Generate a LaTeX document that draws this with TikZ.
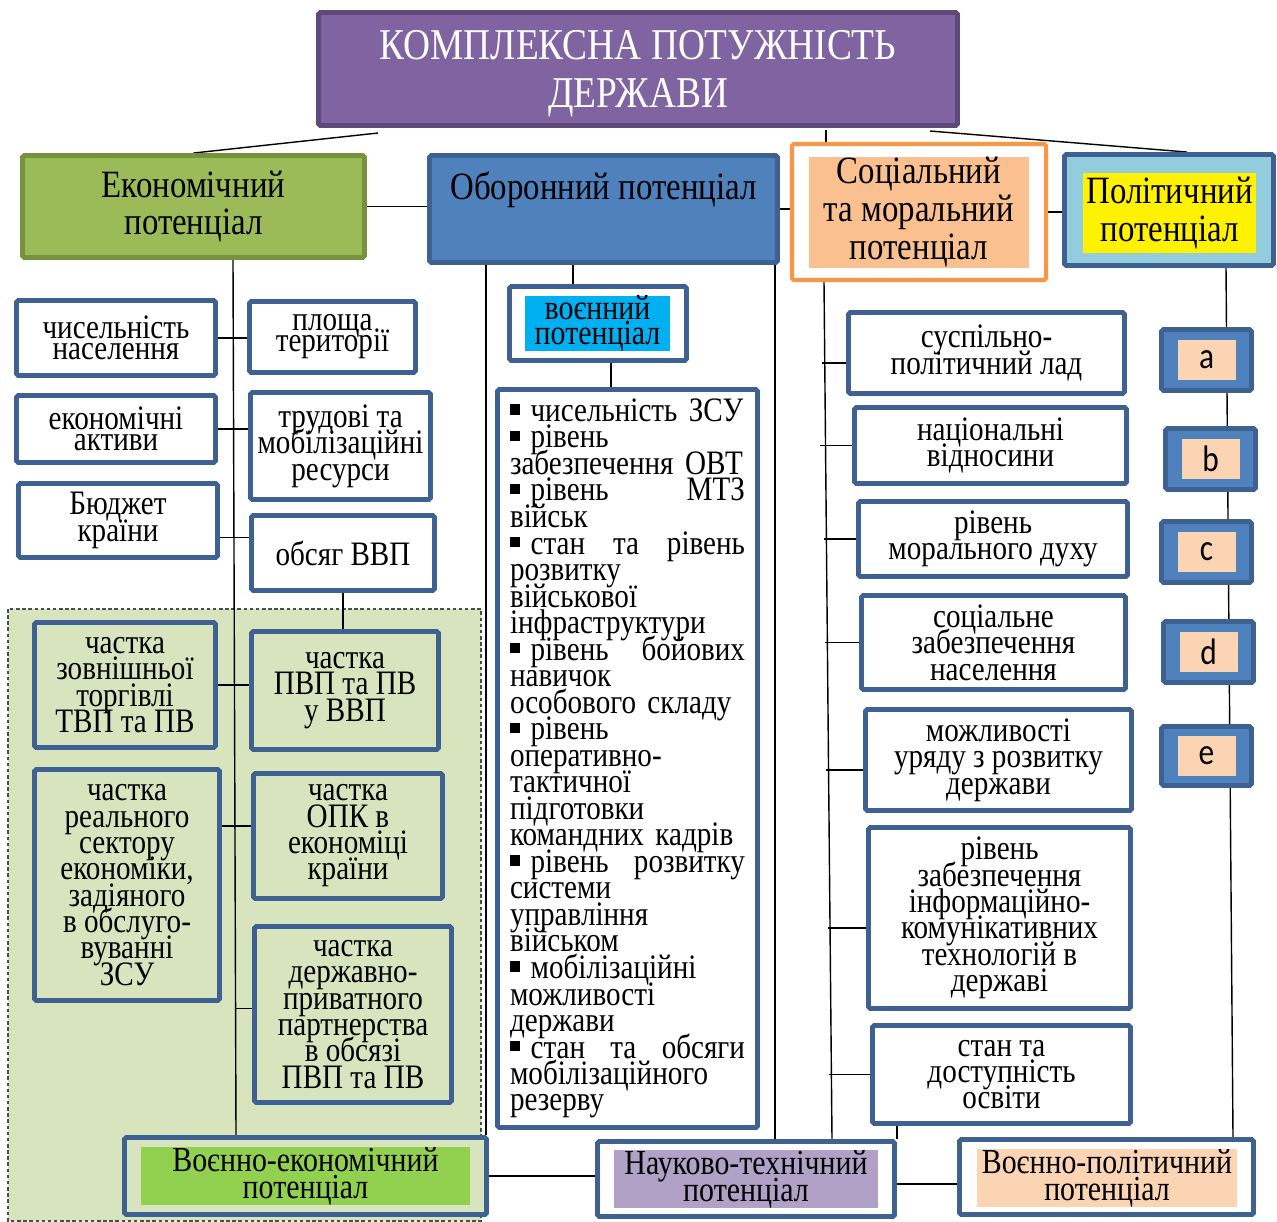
\documentclass[tikz,border=0pt]{standalone}
\usepackage{fontspec}
\setmainfont[FakeStretch=0.85]{Liberation Serif}
\newfontfamily\letfont[FakeStretch=0.85]{Carlito}
\usetikzlibrary{calc,backgrounds}

\definecolor{titlefill}{HTML}{8064A2}
\definecolor{titledraw}{HTML}{5F497A}
\definecolor{econfill}{HTML}{9BBB59}
\definecolor{econdraw}{HTML}{76923C}
\definecolor{blufill}{HTML}{4F81BD}
\definecolor{bludraw}{HTML}{3E6191}
\definecolor{orgdraw}{HTML}{F79646}
\definecolor{orgfill}{HTML}{FAC090}
\definecolor{polfill}{HTML}{93CDDD}
\definecolor{areafill}{HTML}{D7E4BD}
\definecolor{cyanfill}{HTML}{00B0F0}
\definecolor{limefill}{HTML}{92D050}
\definecolor{lilacfill}{HTML}{B2A1C7}
\definecolor{peachfill}{HTML}{FBD4B4}

\setlength{\lineskiplimit}{-100pt}
\newcommand{\ftitle}{\fontsize{25}{27.5}\selectfont}
\newcommand{\fbig}{\fontsize{22}{21.5}\selectfont}
\newcommand{\fnorm}{\fontsize{19.5}{15}\selectfont}
\newcommand{\ftight}{\fontsize{19.5}{12}\selectfont}
\newcommand{\flist}{\fontsize{19.5}{15.1}\selectfont\lineskiplimit=-100pt\relax}
\newcommand{\fbot}{\fontsize{20}{15.3}\selectfont}
\newcommand{\flet}{\letfont\fontsize{21}{21}\selectfont}
\newcommand{\bul}{\rule[0.2em]{0.3em}{0.3em}\hspace{0.3em}}

\pgfdeclarelayer{bg}
\pgfsetlayers{bg,main}

\tikzset{wh/.style 2 args={minimum width=#1*0.02cm, minimum height=#2*0.02cm}}
\tikzstyle{cell} = [draw=bludraw, line width=2.8pt, fill=white, rounded corners=1pt, align=center, inner sep=0pt, font=\fnorm]
\tikzstyle{greencell} = [cell, fill=areafill]
\tikzstyle{panel} = [inner sep=0pt, align=center, font=\fbot]
\tikzstyle{letcell} = [draw=bludraw, line width=2.6pt, fill=blufill, rounded corners=1pt, wh={90}{61}]
\tikzstyle{letpanel} = [fill=peachfill, inner sep=0pt, wh={58}{40}, font=\flet]
\tikzstyle{conn} = [draw=black, line width=0.8pt]

\begin{document}
\begin{tikzpicture}[x=0.02cm, y=-0.02cm]
\useasboundingbox (0,0) rectangle (1277,1221);

% shaded area of the military-economic block
\begin{pgfonlayer}{bg}
\fill[areafill] (8,609) rectangle (481,1221);
\draw[black!70, line width=0.6pt, dash pattern=on 2pt off 1.5pt] (8,609) rectangle (481,1221);
\end{pgfonlayer}

% top level
\node[cell, draw=titledraw, fill=titlefill, text=white, font=\ftitle, text depth=0pt, wh={639}{113}] (title) at (638,69) {КОМПЛЕКСНА ПОТУЖНІСТЬ\\ДЕРЖАВИ};
\node[cell, draw=econdraw, fill=econfill, font=\fbig, wh={342}{102}] (econ) at (193.5,206.5) {Економічний\\потенціал};
\node[cell, fill=blufill, font=\fbig, wh={348}{107}] (defn) at (603.5,209) {Оборонний потенціал\\[5pt]\mbox{}};
\node[cell, draw=orgdraw, line width=2.3pt, wh={254}{136}] (soc) at (919,212) {};
\node[panel, fill=orgfill, font=\fbig, wh={220}{111}] (socin) at (soc) {Соціальний\\та моральний\\потенціал};
\node[cell, fill=polfill, wh={209}{111}] (pol) at (1169,210) {};
\node[panel, fill=yellow, font=\fbig, wh={173}{80}] (polin) at (1169.5,213) {Політичний\\потенціал};

% economic potential
\node[cell, font=\ftight, wh={199}{75}] (nas) at (116,338) {чисельність\\населення};
\node[cell, font=\ftight, wh={166}{71}] (plosh) at (332.5,337) {площа\\території};
\node[cell, font=\ftight, wh={199}{67}] (aktyv) at (116,429) {економічні\\активи};
\node[cell, wh={180}{107}] (trud) at (340.5,446) {трудові та\\мобілізаційні\\ресурси};
\node[cell, wh={199}{74}] (budzh) at (118,520.5) {Бюджет\\країни};
\node[cell, wh={183}{75}] (vvp) at (343,553) {обсяг ВВП};

\node[greencell, wh={181}{125}] (zovn) at (125,685) {частка\\зовнішньої\\торгівлі\\ТВП та ПВ};
\node[greencell, wh={187}{118}] (pvp) at (345,690.5) {частка\\ПВП та ПВ\\у ВВП};
\node[greencell, wh={185}{231}] (real) at (127,885) {частка\\реального\\сектору\\економіки,\\задіяного\\в обслуго-\\вуванні\\ЗСУ};
\node[greencell, wh={189}{125}] (opk) at (348,836) {частка\\ОПК в\\економіці\\країни};
\node[greencell, wh={197}{176}] (dpp) at (353,1014.5) {частка\\державно-\\приватного\\партнерства\\в обсязі\\ПВП та ПВ};
\node[greencell, wh={362}{77}] (voek) at (305.5,1176) {};
\node[panel, fill=limefill, wh={329}{53}] (voekin) at (voek) {Воєнно-економічний\\потенціал};

% defence potential
\node[cell, wh={177}{74}] (voen) at (598,323.5) {};
\node[panel, fill=cyanfill, font=\fontsize{20}{14}\selectfont, wh={145}{53}] (voenin) at (597.5,323.5) {воєнний\\потенціал};
\node[cell, wh={260}{738}, text width=4.7cm, align=left] (list) at (627.5,758.5) {\flist
\bul чисельність ЗСУ\\
\bul рівень\\
забезпечення ОВТ\\
\bul рівень\hfill МТЗ\\
військ\\
\bul стан\hfill та\hfill рівень\\
розвитку\\
військової\\
інфраструктури\\
\bul рівень\hfill бойових\\
навичок\\
особового складу\\
\bul рівень\\
оперативно-\\
тактичної\\
підготовки\\
командних кадрів\\
\bul рівень\hfill розвитку\\
системи\\
управління\\
військом\\
\bul мобілізаційні\\
можливості\\
держави\\
\bul стан\hfill та\hfill обсяги\\
мобілізаційного\\
резерву};
\node[cell, wh={297}{75}] (nauk) at (746,1179) {};
\node[panel, fill=lilacfill, wh={264}{53}] (naukin) at (nauk) {Науково-технічний\\потенціал};

% social and moral potential
\node[cell, wh={276}{81}] (s1) at (986.5,353) {суспільно-\\політичний лад};
\node[cell, wh={272}{76}] (s2) at (990.5,445.5) {національні\\відносини};
\node[cell, wh={269}{75}] (s3) at (993,539) {рівень\\морального духу};
\node[cell, wh={264}{94}] (s4) at (993.5,642.5) {соціальне\\забезпечення\\населення};
\node[cell, wh={266}{101}] (s5) at (998.5,760) {можливості\\уряду з розвитку\\держави};
\node[cell, wh={262}{181}] (s6) at (999.5,918) {рівень\\забезпечення\\інформаційно-\\комунікативних\\технологій в\\державі};
\node[cell, wh={258}{98}] (s7) at (1001.5,1074.5) {стан та\\доступність\\освіти};

% political potential
\node[letcell] (la) at (1206.5,360) {};
\node[letpanel] (lain) at (la) {a};
\node[letcell] (lb) at (1210.5,459) {};
\node[letpanel] (lbin) at (lb) {b};
\node[letcell] (lc) at (1206.5,552) {};
\node[letpanel] (lcin) at (lc) {c};
\node[letcell] (ld) at (1208.5,652) {};
\node[letpanel] (ldin) at (ld) {d};
\node[letcell, wh={90}{59}] (le) at (1206.5,756) {};
\node[letpanel] (lein) at (le) {e};
\node[cell, wh={294}{75}] (vpol) at (1106.5,1177) {};
\node[panel, fill=peachfill, wh={260}{56}] (vpolin) at (1107,1178) {Воєнно-політичний\\потенціал};

\begin{pgfonlayer}{bg}
\coordinate (tl) at (378,133);
\coordinate (tm) at (826,130);
\coordinate (tr) at (930,131);
\draw[conn] (tl) -- (econ.north);
\draw[conn] ($(title.south)+(-6,0)$) -- ($(title.south)+(-6,0)$ |- defn.north);
\draw[conn] (tm) -- (tm |- soc.north);
\draw[conn] (tr) -- ($(pol.north)+(18,0)$);
\draw[conn] (econ.east) -- (econ.east -| defn.west);
\draw[conn] (defn.east) -- (defn.east -| soc.west);
\draw[conn] (soc.east) -- (soc.east -| pol.west);
% economic links
\draw[conn] (econ.south -| 233,0) -- (voek.north -| 236,0);
\draw[conn] (nas.east) -- (nas.east -| plosh.west);
\draw[conn] (aktyv.east) -- (aktyv.east -| trud.west);
\draw[conn] ($(budzh.east)+(0,17)$) -- ++(30,0);
\draw[conn] (vvp.south) -- (vvp.south |- pvp.north);
\draw[conn] (zovn.east) -- (zovn.east -| pvp.west);
\draw[conn] ($(real.east)+(0,-59)$) -- ++(30,0);
\draw[conn] ($(dpp.west)+(0,-6)$) -- ++(-17,0);
% defence links
\draw[conn] (defn.south -| 486,0) -- (voek.north -| 486,0);
\draw[conn] (defn.south -| 775,0) -- (nauk.north -| 775,0);
\draw[conn] (defn.south -| 573,0) -- (voen.north -| 573,0);
\draw[conn] (voen.south -| 611,0) -- (list.north -| 611,0);
\draw[conn] (voek.east) -- (voek.east -| nauk.west);
\draw[conn] ($(nauk.east)+(0,5)$) -- ++(60,0);
% social links
\draw[conn] (soc.south -| 824,0) -- (nauk.north -| 832,0);
\draw[conn] ($(s1.west)+(0,10)$) -- ++(-24,0);
\draw[conn] (s2.west) -- ++(-32.5,0);
\draw[conn] (s3.west) -- ++(-32,0);
\draw[conn] (s4.west) -- ++(-34,0);
\draw[conn] ($(s5.west)+(0,10)$) -- ++(-37,0);
\draw[conn] ($(s6.west)+(0,10)$) -- ++(-38.5,0);
\draw[conn] (s7.west) -- ++(-41,0);
\draw[conn] (s7.south -| 897,0) -- (nauk.north -| 897,0);
% political links
\draw[conn] (pol.south -| 1226,0) -- (vpol.north -| 1233,0);
\end{pgfonlayer}
\end{tikzpicture}
\end{document}
